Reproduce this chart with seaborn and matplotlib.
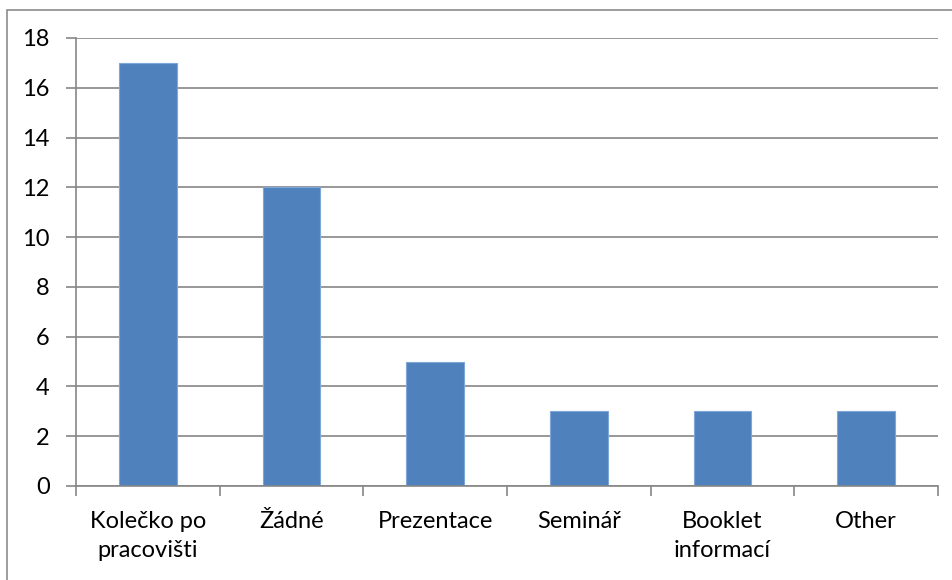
import matplotlib
matplotlib.use("Agg")
import matplotlib.pyplot as plt
import matplotlib.patches as mpatches
from matplotlib.ticker import FixedLocator, NullFormatter
import seaborn as sns
import pandas as pd

categories = ["Kolečko po\npracovišti", "Žádné", "Prezentace", "Seminář", "Booklet\ninformací", "Other"]
counts = [17, 12, 5, 3, 3, 3]
y_ticks = [0, 2, 4, 6, 8, 10, 12, 14, 16, 18]

sns.set_theme(style="white")
plt.rcParams["font.family"] = ["Lato", "DejaVu Sans"]

W, H = 953, 580
fig = plt.figure(figsize=(W / 100, H / 100), dpi=100)
fig.patch.set_facecolor("white")

# chart-area frame (runs off the right and bottom edges)
fig.patches.append(mpatches.Rectangle((7.5 / W, -0.05), 1.1, (H - 9.5) / H + 0.05,
                                      transform=fig.transFigure, fill=False,
                                      edgecolor="#8c8c8c", linewidth=1.2))

ax = fig.add_axes([76 / W, (H - 486) / H, (938 - 76) / W, (486 - 38) / H])
df = pd.DataFrame({"category": categories, "count": counts})
sns.barplot(data=df, x="category", y="count", ax=ax, color="#4F81BD",
            saturation=1, width=0.4, edgecolor="#7ea6d6", linewidth=0.8)

ax.set_xlim(-0.5, len(categories) - 0.5)
ax.set_ylim(0, 18)
ax.set_yticks(y_ticks)
ax.set_xlabel("")
ax.set_ylabel("")

grid_c = "#868686"
ax.yaxis.grid(True, color=grid_c, linewidth=1.2)
ax.set_axisbelow(True)
for side in ("top", "right"):
    ax.spines[side].set_visible(False)
for side in ("left", "bottom"):
    ax.spines[side].set_color(grid_c)
    ax.spines[side].set_linewidth(1.2)

# category-boundary tick marks, labels centred under each bar
ax.xaxis.set_major_locator(FixedLocator([i - 0.5 for i in range(len(categories) + 1)]))
ax.xaxis.set_major_formatter(NullFormatter())
ax.xaxis.set_minor_locator(FixedLocator(list(range(len(categories)))))
ax.set_xticklabels(categories, minor=True)
ax.tick_params(axis="x", which="major", direction="out", length=7, width=1.2,
               color=grid_c, bottom=True)
ax.tick_params(axis="x", which="minor", length=0, pad=18, labelsize=17,
               labelcolor="black")
for lbl in ax.get_xticklabels(minor=True):
    lbl.set_linespacing(1.45)
    lbl.set_verticalalignment("top")
ax.tick_params(axis="y", direction="out", length=7, width=1.2, color=grid_c,
               left=True, labelsize=17, labelcolor="black", pad=12)

fig.savefig("out.png", dpi=100, facecolor="white")
